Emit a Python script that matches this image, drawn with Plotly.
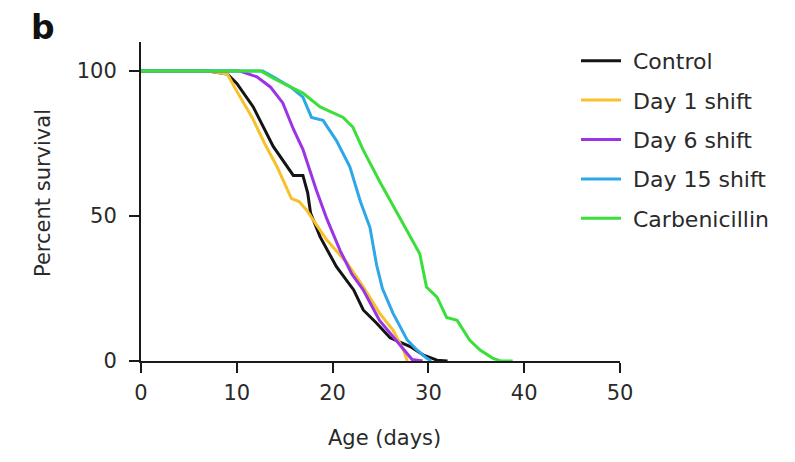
import plotly.graph_objects as go

# Survival curves (age in days, percent surviving)
series_names = ["Control", "Day 1 shift", "Day 6 shift", "Day 15 shift", "Carbenicillin"]
series_colors = ["#141414", "#F8C12C", "#9A34E4", "#2EA7E8", "#3ADF3A"]

control_days = [0, 7, 9, 10, 11.7, 13.8, 15.9, 16.9, 17.4, 17.7, 18.7, 20.4, 22.2, 23.2, 24.6, 26, 28.1, 29.5, 30.9, 32]
control_pct = [100, 100, 99, 95.7, 87.7, 74, 64, 64, 58, 51, 42.8, 32.5, 24.5, 17.6, 13, 8, 5, 2, 0.3, 0]

day1_days = [0, 7, 9, 10, 11.6, 12.9, 14.2, 15.2, 15.7, 16.5, 17.3, 18.3, 19.4, 21.5, 23.2, 24.9, 26.3, 27.4, 27.8]
day1_pct = [100, 100, 99, 93, 84, 75, 67, 60, 56, 55, 52, 47, 41.7, 33.8, 25.6, 16.5, 10.7, 3.8, 0]

day6_days = [0, 10.3, 12.1, 13.5, 14.8, 15.9, 16.9, 18.3, 19.4, 20.8, 22, 23.2, 24.9, 26.7, 27.8, 28.3, 29.4]
day6_pct = [100, 100, 98, 94.5, 89, 80, 73, 59, 49, 38, 30, 24.5, 14, 7, 2.7, 0.5, 0]

day15_days = [0, 12.7, 13.8, 15.6, 16.9, 17.8, 19, 20.4, 21.8, 22.9, 23.9, 24.6, 25.2, 26.3, 27.8, 28.8, 29.8, 30.3]
day15_pct = [100, 100, 98, 94.5, 91, 84, 83, 76, 67, 55, 46, 33, 25, 16.5, 7.2, 3.8, 1, 0]

carb_days = [0, 12.5, 13.8, 15.6, 16.9, 18.7, 21.1, 22.1, 23.2, 24.9, 26, 28.1, 29.1, 29.8, 30.9, 31.9, 33, 34.3, 35.4, 36.7, 37.5, 38.8]
carb_pct = [100, 100, 97.5, 94.5, 92.4, 87.6, 84, 80.7, 72.7, 62, 55.5, 43, 37, 25.5, 22, 15, 14, 7.2, 3.8, 1, 0, 0]

x_ticks = [0, 10, 20, 30, 40, 50]
y_ticks = [0, 50, 100]

all_days = [control_days, day1_days, day6_days, day15_days, carb_days]
all_pct = [control_pct, day1_pct, day6_pct, day15_pct, carb_pct]

W, H = 795, 462
L, R, T, B = 141, 175, 42, 101
plot_w = W - L - R
plot_h = H - T - B

def px_x(px):
    return (px - L) / plot_w

def px_y(py):
    return (H - B - py) / plot_h

FONT = "DejaVu Sans, Verdana, sans-serif"
TEXT = "#2a2a2a"

fig = go.Figure()
for name, color, xs, ys in zip(series_names, series_colors, all_days, all_pct):
    fig.add_trace(go.Scatter(x=xs, y=ys, mode="lines", name=name,
                             line=dict(color=color, width=3), showlegend=False))

shapes = []
annotations = []
for i, (name, color) in enumerate(zip(series_names, series_colors)):
    yc = 60.7 + 39.4 * i
    shapes.append(dict(type="line", xref="paper", yref="paper",
                       x0=px_x(581), x1=px_x(621), y0=px_y(yc), y1=px_y(yc),
                       line=dict(color=color, width=3)))
    annotations.append(dict(text=name, xref="paper", yref="paper",
                            x=px_x(631), y=px_y(yc + 1), xanchor="left", yanchor="middle",
                            showarrow=False, font=dict(family=FONT, size=22, color=TEXT)))

annotations.append(dict(text="Percent survival", xref="paper", yref="paper",
                        x=px_x(43), y=px_y(193), xanchor="center", yanchor="middle",
                        textangle=-90, showarrow=False,
                        font=dict(family=FONT, size=21, color=TEXT)))
annotations.append(dict(text="Age (days)", xref="paper", yref="paper",
                        x=px_x(384), y=px_y(438), xanchor="center", yanchor="middle",
                        showarrow=False, font=dict(family=FONT, size=21, color=TEXT)))
annotations.append(dict(text="<b>b</b>", xref="paper", yref="paper",
                        x=px_x(29), y=px_y(27), xanchor="left", yanchor="middle",
                        showarrow=False, font=dict(family=FONT, size=33, color="#111111")))

axis_common = dict(showline=True, linecolor="#1a1a1a", linewidth=2, ticks="outside",
                   ticklen=10, tickwidth=2, tickcolor="#1a1a1a", showgrid=False,
                   zeroline=False, tickfont=dict(family=FONT, size=21, color=TEXT))

fig.update_layout(
    width=W, height=H,
    margin=dict(l=L, r=R, t=T, b=B, pad=0),
    paper_bgcolor="white", plot_bgcolor="white",
    xaxis=dict(range=[0, 50], tickvals=x_ticks, ticklabelstandoff=2, **axis_common),
    yaxis=dict(range=[0, 110], tickvals=y_ticks, ticklabelstandoff=8, **axis_common),
    shapes=shapes, annotations=annotations, showlegend=False,
)

fig.write_html("out.html")
